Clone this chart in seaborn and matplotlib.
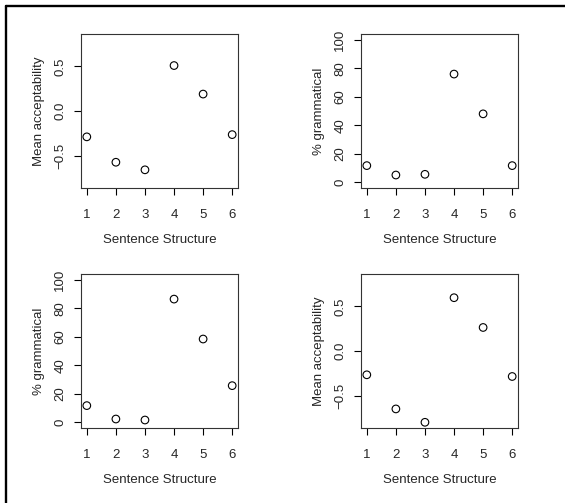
import numpy as np
import pandas as pd
import matplotlib
matplotlib.use("Agg")
import matplotlib.pyplot as plt
import seaborn as sns
from matplotlib.lines import Line2D

# Dados
estrutura = [1, 2, 3, 4, 5, 6]
aceit_1 = [-0.29, -0.575, -0.66, 0.51, 0.19, -0.265]
gram_1 = [11.7, 5.1, 5.6, 75.9, 48.0, 11.7]
gram_2 = [11.7, 2.3, 1.6, 86.4, 58.4, 25.7]
aceit_2 = [-0.267, -0.65, -0.80, 0.598, 0.264, -0.286]

sns.set_theme(style="ticks")
plt.rcParams['font.family'] = ['Liberation Sans', 'DejaVu Sans']

fig = plt.figure(figsize=(5.65, 5.03), dpi=100)

W, H = 565, 503
def caixa(x0, y0, x1, y1):
    return [x0 / W, 1 - y1 / H, (x1 - x0) / W, (y1 - y0) / H]

paineis = [
    (caixa(81, 34, 238, 188), aceit_1, 'Mean acceptability', 'acc'),
    (caixa(361, 34, 518, 188), gram_1, '% grammatical', 'pct'),
    (caixa(81, 274, 238, 428), gram_2, '% grammatical', 'pct'),
    (caixa(361, 274, 518, 428), aceit_2, 'Mean acceptability', 'acc'),
]

fs = 9.5
for pos, valores, rotulo, tipo in paineis:
    ax = fig.add_axes(pos)
    df = pd.DataFrame({'x': estrutura, 'y': valores})
    sns.scatterplot(data=df, x='x', y='y', ax=ax, marker='o', s=30,
                    facecolor='none', edgecolor='black', linewidth=0.8)
    ax.set_xlim(0.8, 6.2)
    ax.set_xticks(estrutura)
    if tipo == 'acc':
        ax.set_ylim(-0.864, 0.864)
        ax.set_yticks([-0.5, 0.0, 0.5])
        ax.set_yticklabels(['\u22120.5', '0.0', '0.5'])
    else:
        ax.set_ylim(-4, 104)
        ax.set_yticks([0, 20, 40, 60, 80, 100])
    for s in ax.spines.values():
        s.set_linewidth(0.8)
        s.set_color('#333333')
    ax.tick_params(axis='both', length=5, width=0.8, color='black',
                   labelsize=fs)
    ax.tick_params(axis='x', pad=10)
    ax.tick_params(axis='y', pad=5.5)
    for t in ax.get_yticklabels():
        t.set_rotation(90)
        t.set_va('center')
    ax.set_xlabel('Sentence Structure', fontsize=fs, labelpad=9.5)
    ax.set_ylabel(rotulo, fontsize=fs, labelpad=7)

# Moldura externa (linhas superior e esquerda)
fig.add_artist(Line2D([5.5 / W, 5.5 / W], [0, 1 - 6 / H], color='black',
                      linewidth=1.7, transform=fig.transFigure))
fig.add_artist(Line2D([5.5 / W, 1], [1 - 6 / H, 1 - 6 / H], color='black',
                      linewidth=1.7, transform=fig.transFigure))

fig.savefig('out.png', dpi=100)
